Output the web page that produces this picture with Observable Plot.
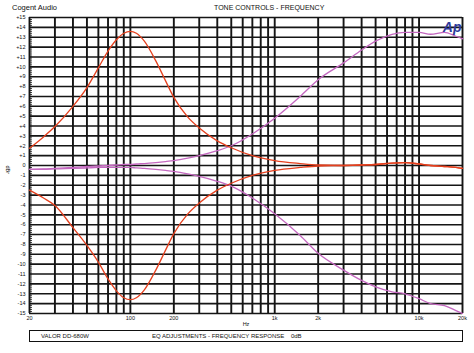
<!DOCTYPE html>
<html><head><meta charset="utf-8">
<script src="https://cdn.jsdelivr.net/npm/d3@7"></script>
<script src="https://cdn.jsdelivr.net/npm/@observablehq/plot@0.6"></script>
<style>
html,body{margin:0;padding:0;background:#fff;}
#wrap{position:relative;width:474px;height:353px;overflow:hidden;font-family:"Liberation Sans",Arial,sans-serif;background:#fff;}
.t{position:absolute;white-space:pre;color:#111;line-height:1;}
#chart{position:absolute;left:0;top:0;}
#box{position:absolute;left:29px;top:330px;width:432px;height:10px;border:1px solid #111;}
</style></head><body>
<div id="wrap">
 <div id="chart"></div>
 <div class="t" style="left:12px;top:4px;font-size:7.5px">Cogent Audio</div>
 <div class="t" style="left:214px;top:4px;font-size:7px">TONE CONTROLS - FREQUENCY</div>
 <div id="box"></div>
 <div class="t" style="left:41px;top:333px;font-size:6px">VALOR DD-680W</div>
 <div class="t" style="left:152px;top:333px;font-size:6px">EQ ADJUSTMENTS - FREQUENCY RESPONSE    0dB</div>
</div>
<script>
// ---- data ----
const freqs = [20, 25, 30, 40, 50, 60, 70, 80, 90, 100, 110, 125, 150, 175, 200, 250, 300, 400, 500, 700, 1000, 1500, 2000, 3000, 4000, 5000, 6500, 8000, 10000, 12000, 15000, 18000, 20000];
const bassBoost = [1.75, 2.9, 3.95, 6.0, 7.9, 9.9, 11.6, 12.75, 13.4, 13.6, 13.4, 12.6, 10.6, 8.6, 6.9, 4.9, 3.8, 2.5, 1.8, 1.0, 0.5, 0.2, 0.05, 0.0, 0.05, 0.1, 0.25, 0.3, 0.15, 0.0, -0.1, -0.2, -0.3];
const bassCut = [-2.5, -3.3, -4.05, -6.3, -8.1, -9.8, -11.5, -12.7, -13.4, -13.6, -13.4, -12.6, -10.6, -8.6, -6.9, -4.9, -3.8, -2.5, -1.8, -1.0, -0.5, -0.2, -0.05, 0.0, 0.05, 0.1, 0.25, 0.3, 0.15, 0.0, -0.1, -0.2, -0.3];
const trebleBoost = [-0.4, -0.35, -0.3, -0.2, -0.1, -0.05, 0.0, 0.05, 0.1, 0.1, 0.15, 0.2, 0.3, 0.4, 0.5, 0.75, 1.0, 1.5, 2.0, 3.2, 4.8, 7.0, 8.7, 10.4, 11.7, 12.6, 13.3, 13.5, 13.5, 13.3, 13.5, 13.1, 12.85];
const trebleCut = [-0.4, -0.4, -0.35, -0.3, -0.25, -0.2, -0.2, -0.2, -0.2, -0.2, -0.25, -0.3, -0.4, -0.5, -0.6, -0.85, -1.1, -1.6, -2.1, -3.3, -4.9, -7.1, -8.9, -10.6, -11.65, -12.3, -12.8, -13.0, -13.5, -14.0, -14.2, -14.7, -15.0];
const xTickValues = [20, 50, 100, 200, 500, 1000, 2000, 5000, 10000, 20000];
const xTickLabels = ["20", "50", "100", "200", "500", "1k", "2k", "5k", "10k", "20k"];
const yTickValues = d3.range(-15, 16);
const gridFreqs = [20,30,40,50,60,70,80,90,100,200,300,400,500,600,700,800,900,1000,2000,3000,4000,5000,6000,7000,8000,9000,10000,20000];
const minorY = d3.range(-150, 151, 2).map(d => d / 10);

const seriesNames = ["Treble boost", "Treble cut", "Bass boost", "Bass cut"];
const seriesValues = [trebleBoost, trebleCut, bassBoost, bassCut];
const seriesColors = ["#c468c0", "#c468c0", "#e5401e", "#e5401e"];
const rows = [];
seriesNames.forEach((s, i) => freqs.forEach((f, j) => rows.push({series: s, f, db: seriesValues[i][j]})));

const chart = Plot.plot({
  width: 474, height: 335,
  marginTop: 17, marginBottom: 22, marginLeft: 29, marginRight: 12,
  style: {fontFamily: "Liberation Sans, Arial, sans-serif", fontSize: "5.5px", color: "#111", background: "transparent"},
  x: {type: "log", domain: [20, 20000]},
  y: {domain: [-15, 15]},
  color: {domain: seriesNames, range: seriesColors},
  marks: [
    Plot.ruleY(yTickValues, {stroke: "#151515", strokeWidth: 1.6}),
    Plot.ruleX(gridFreqs, {stroke: "#151515", strokeWidth: 1.9}),
    Plot.axisY(minorY, {anchor: "left", tickSize: -3, fill: "none", stroke: "#111", strokeWidth: 0.8, label: null}),
    Plot.axisX({ticks: xTickValues, tickFormat: d => xTickLabels[xTickValues.indexOf(d)], tickSize: 0, tickPadding: 3, label: null}),
    Plot.axisY({ticks: yTickValues, tickFormat: d => d > 0 ? "+" + d : String(d), tickSize: 0, tickPadding: 4, label: null}),
    Plot.text(["Hz"], {frameAnchor: "bottom", dy: 12, fontSize: 5.5}),
    Plot.text(["dBr"], {frameAnchor: "left", dx: -22, rotate: 90, fontSize: 5.5}),
    Plot.line(rows, {x: "f", y: "db", z: "series", stroke: "series", strokeWidth: 1.3, curve: "monotone-x"}),
    Plot.text(["Ap"], {frameAnchor: "top-right", dx: -1, dy: 5, textAnchor: "end", fill: "#2f3b9c", fontWeight: "bold", fontStyle: "italic", fontSize: 14})
  ]
});
document.getElementById("chart").appendChild(chart);
</script>
</body></html>
